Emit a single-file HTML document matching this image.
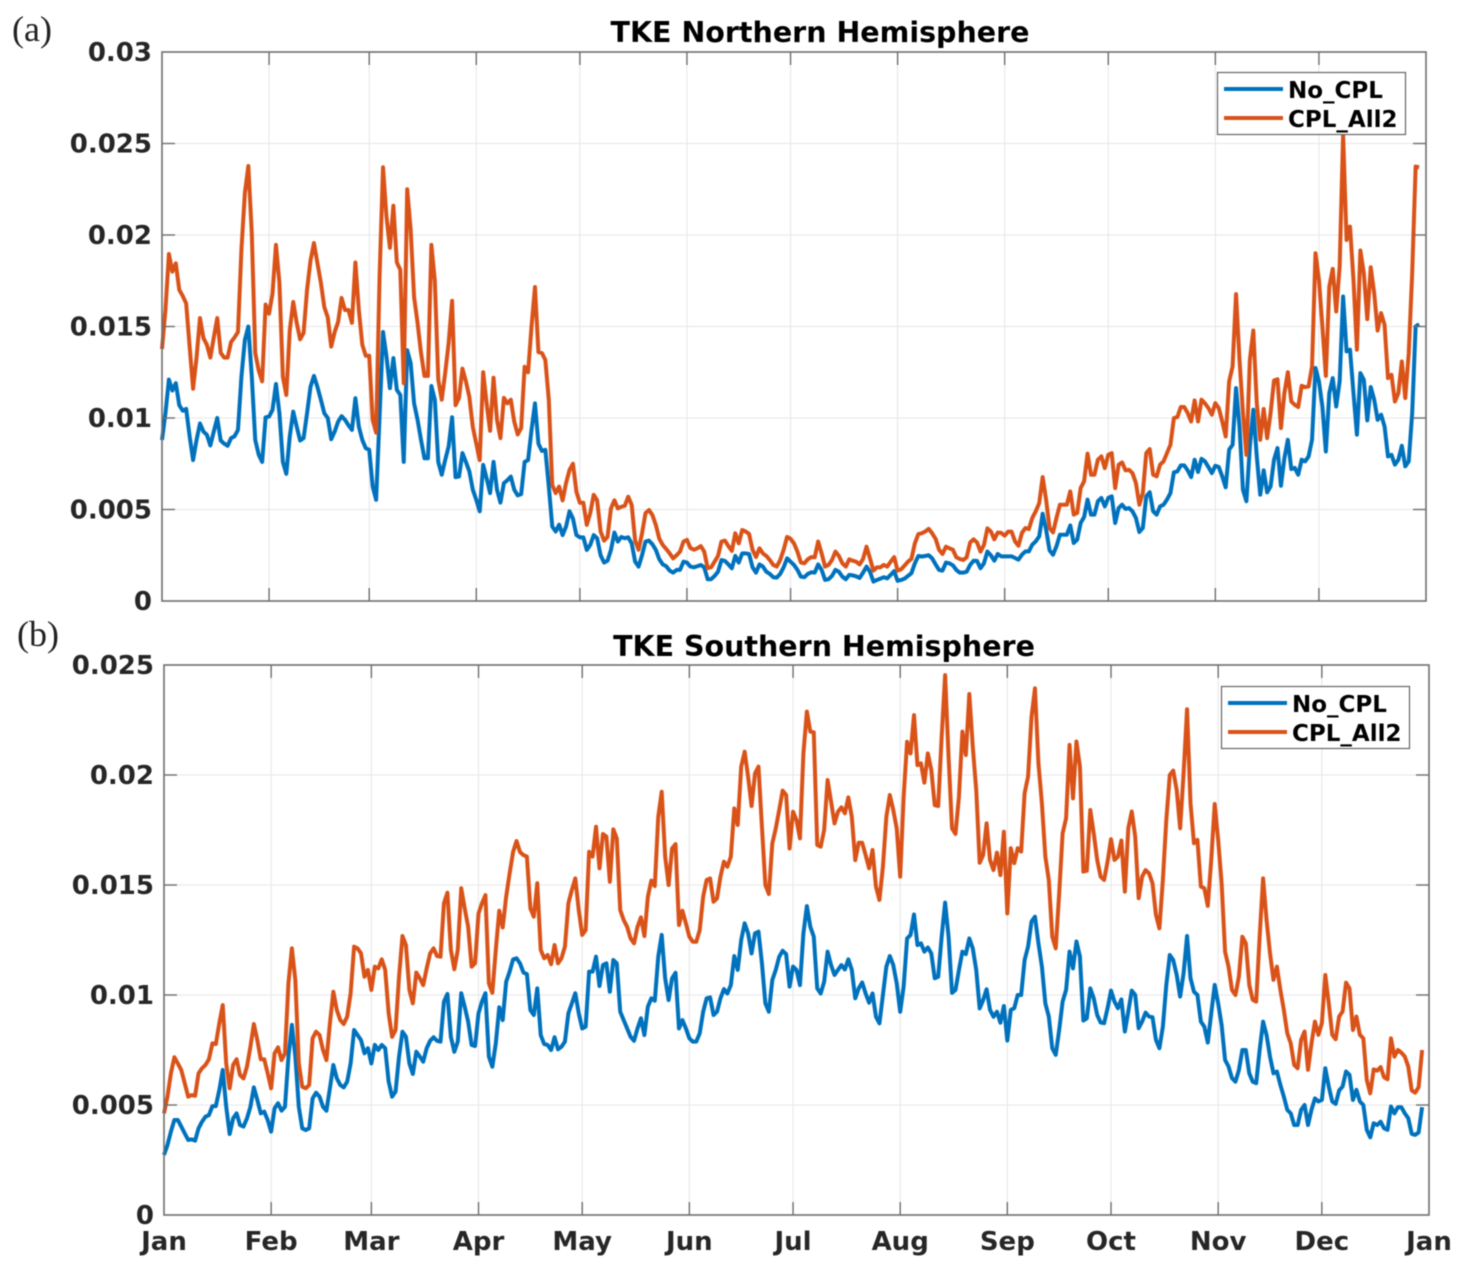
<!DOCTYPE html>
<html lang="en">
<head>
<meta charset="utf-8">
<title>TKE Northern and Southern Hemisphere</title>
<style>
html,body{margin:0;padding:0;background:#fff;}
svg{display:block;filter:blur(0.4px);}
.tick{font-family:"DejaVu Sans","Liberation Sans",sans-serif;font-weight:bold;font-size:26px;fill:#262626;}
.ttl{font-family:"DejaVu Sans","Liberation Sans",sans-serif;font-weight:bold;font-size:28.5px;fill:#000;}
.leg{font-family:"DejaVu Sans","Liberation Sans",sans-serif;font-weight:bold;font-size:23px;fill:#000;}
.pan{font-family:"Liberation Serif","DejaVu Serif",serif;font-size:36px;fill:#222;}
</style>
</head>
<body>
<svg id="figure" width="1466" height="1270" viewBox="0 0 1466 1270" xmlns="http://www.w3.org/2000/svg">
  <rect width="1466" height="1270" fill="#fff"/>
  <g id="panel-a"></g>
  <g id="panel-b"></g>
  <text class="pan" x="12" y="41">(a)</text>
  <text class="pan" x="17" y="646">(b)</text>
  <text class="ttl" x="820" y="42" text-anchor="middle">TKE Northern Hemisphere</text>
  <text class="ttl" x="824" y="656" text-anchor="middle">TKE Southern Hemisphere</text>
  <g>
    <rect x="1217.5" y="72.5" width="188" height="62" fill="#fff" stroke="#666" stroke-width="1.2"/>
    <line x1="1224" y1="89" x2="1283" y2="89" stroke="#0072BD" stroke-width="4"/>
    <line x1="1224" y1="118" x2="1283" y2="118" stroke="#D95319" stroke-width="4"/>
    <text class="leg" x="1288" y="98">No_CPL</text>
    <text class="leg" x="1288" y="127">CPL_All2</text>
  </g>
  <g>
    <rect x="1221.5" y="686.5" width="188" height="62" fill="#fff" stroke="#666" stroke-width="1.2"/>
    <line x1="1228" y1="703" x2="1287" y2="703" stroke="#0072BD" stroke-width="4"/>
    <line x1="1228" y1="732" x2="1287" y2="732" stroke="#D95319" stroke-width="4"/>
    <text class="leg" x="1292" y="712">No_CPL</text>
    <text class="leg" x="1292" y="741">CPL_All2</text>
  </g>
</svg>
<script>
// Values are TKE in units of 1e-4, one per day of a leap year.
const monthLabels = ["Jan","Feb","Mar","Apr","May","Jun","Jul","Aug","Sep","Oct","Nov","Dec","Jan"];
const monthStartDays = [0,31,60,91,121,152,182,213,244,274,305,335,366];
const northTickLabels = ["0","0.005","0.01","0.015","0.02","0.025","0.03"];
const southTickLabels = ["0","0.005","0.01","0.015","0.02","0.025"];

const northNoCpl = [
88,102.6,121,115,119,107,104,105,90,77,
88,97,92.6,90.8,85,92.6,100,87.7,86,84.8,
89,90,93.5,122.6,142.7,150,122.6,88,80,76,
100.4,100.8,104.4,118.6,102.6,76,69.5,90,103.5,95.3,
87.7,89,102.6,117,123,117,110,102.6,100,88.4,
92.6,98,101,99,96,93.5,110.8,95.3,88,83.5,
82.6,62.6,55.3,100.8,147,133.6,116.3,132.7,115.4,112.6,
76,137,130,108,99,88,78,78,117.5,110,
76,69,77,84.4,100.4,67.7,68,80.8,76,70.8,
60.8,55.3,49,74.4,67,59,76,60.8,53.8,64.4,
66,68,60.8,57.7,58.4,76,77,93.5,108,86,
82,82.6,62.6,40.7,38,41.7,36,40.7,49,45,
36,34.8,34.8,27.9,30.6,36,34.3,25,21,22,
27.9,37.4,32.5,35,34.3,34.8,31.5,21.5,18.8,25,
32.5,33,31,27.9,22.8,20,19,16.6,15.5,17,
17,21.5,21,18.8,18.4,19,19.7,18.4,11.9,11.9,
13.7,16,22.4,21.9,20,17.9,24.6,21,26,26,
25.7,18.4,15.5,20,18.8,16,14.8,13,12.8,14.8,
18.4,23.3,21.5,19.7,17,13.3,13,14.8,15.7,15.5,
20,17,11.5,11.9,13.7,17,16,13.3,11.9,14.3,
14,13.5,12.6,15.5,18.8,16,10.6,11.5,12.2,13,
12.4,14.3,16.3,11,11.5,12.2,13.7,15.2,20.6,24.6,
24.3,24.6,25,23.3,20,17,16.6,21,20.6,19.5,
17,15.5,15.5,16,19.7,22,21.9,17.9,20.6,27,
25,22,25.7,24.4,24.4,24.4,24.4,23.5,22.6,25.3,
27.1,27.1,30.8,32.6,35.3,47.7,39,27.7,25.3,29.9,
36.2,36.2,36.2,41.3,31.7,33.5,42.6,45.9,55.4,47.2,
47.2,54.5,56.3,51.7,56.3,57.2,42.6,50.8,52.6,50.3,
50.8,49,45.4,37.7,39.9,57.2,59.4,49,47.2,51.7,
52.6,55.4,59,70.3,70.8,74.1,74.1,71.4,67.7,77.2,
70.5,77.7,76.3,73.2,69.9,73.9,73.2,68.1,62.1,82.7,
85.4,116.3,95.4,60.8,54.5,84.5,104.5,79,58.1,71.4,
59.4,62.6,77.2,83.6,63,78.1,88.1,72.1,72.7,69,
77.2,76.3,79,88.1,127.3,120,106.3,81.7,113.6,121.8,
106.3,120,166.4,136.4,137.3,113.6,90.9,124.5,120.9,98.7,
116.9,110,99,101.8,95.4,79,79.9,74.5,77.2,84.8,
73.6,76.3,102.7,150,151.3];

const northCplAll2 = [
137.7,159,189.6,180,184.5,170,166.7,162.6,139,116,
133,154.6,143.7,140,133,144,154.6,135.6,133,133,
141.5,144,147,192,223,237.7,201,135.6,126,120,
162,157,168,194.6,174,122.5,112.6,148,163.4,152,
143,146.5,170,186,195.6,184.7,174,160.6,155,139,
147,152.5,165.6,159,159,152,185,159,140,134,
134,99,92,177,237,210,193,216,185,181,
119,225,203,166,152,135.6,123,123,194.6,175,
121,110,124.5,141,164,107,111,127,120,111.5,
95,86,77,125,108,93,122,99,89,111,
108,110,98,91,94.5,128,125,150,171.6,136,
135.5,131.7,110,63.4,59,62.5,55,64.5,71.6,75,
59.6,53.7,53.7,41.6,48,58,55,38,33,35,
50.6,55,50.6,51.5,52,57,52.5,33,28,37,
48,49.7,47,41.5,34,30.6,28.4,26,23.3,25,
27,32.5,33.4,29,28,28.8,30,27,18,18.4,
21.5,24.6,32.5,33,30,27.4,37,31.5,38.8,38,
36.6,28,24,28.8,26,24.6,22.4,19.7,18.8,22.4,
28,35,34,31.5,27,21,20.6,22.8,24,23.9,
32.5,26,18.8,19.7,22.4,27,24.6,20.6,18.8,22.8,
22,21.5,20,23,29.7,23.3,16.6,18.4,18.4,19.7,
18.8,21.5,24,16.6,17.3,19.3,21.5,23,31.5,36.6,
37,38,39.4,37,34,28,25.7,29.7,28.8,28,
23.9,23,22.4,23.9,32,33.7,32,27,30.6,39.7,
38,33.7,37.4,37.2,35.7,37.9,37.9,32.6,30.2,37.2,
39.9,39.3,45.4,49,53.5,67.7,55.4,39.9,37.5,45.4,
52.6,52.6,52.6,59.9,47.2,48.1,61.7,65.4,80.5,69,
69,77.2,79,72.6,79.9,80.8,61.7,74.5,75.7,71.4,
71.7,69.9,64.5,52.6,59,80.8,83,69,68.1,74.5,
76.3,80.8,85.4,100,100.5,106,106,102.7,98.1,109.6,
98.1,110,108,105.4,101.8,108.1,105.4,98.1,89.9,120,
128.2,167.7,131.8,102.7,79.9,131.8,147.8,108.1,88.1,104.9,
89,102.7,120.5,121.2,94.5,113.6,125,109,107.2,106,
117.6,116.9,117.2,128.2,190,175.5,150,123,171.8,181.5,
158.2,182.8,254.6,197.3,204.6,175.5,137.3,191.5,179.1,154,
182.4,168.2,147.8,157.3,150.9,121.8,123.6,109,113.6,130.9,
110.9,135.4,179.1,237.4,237];

const southNoCpl = [
27.3,31.8,37.9,43.2,43.2,40.2,37.1,34.1,34.4,33.8,
39.4,42.4,44.7,45.4,49.5,49.5,56.8,65.9,49.2,36.8,
43.9,46.2,40.9,40.2,43.9,49.2,58,52.3,46.2,47,
43.2,37.9,48.5,50.8,47.4,49.2,72,86.4,72,49.2,
39.4,38.6,39.4,53,55.6,53.8,49.2,47.4,57.6,68.2,
62.1,59.1,58,60.6,68.9,84.1,81.8,79.5,73.5,75.8,
68.9,77.3,75,77.3,75.8,60.6,53.8,56.1,72,83.3,
81,68.9,64.1,74.2,72,69.7,75.8,79.2,80.8,79.2,
78.8,97,100.5,81,74.2,78.8,100.8,94.7,87.9,77.3,
76.8,91.7,97,100.8,72,67.4,78,94.4,88.6,106,
110.6,116.2,116.7,114.4,110.2,109.5,93.2,90.9,103,81.8,
77.7,77.3,75,80.8,75.3,76.5,78.8,91.7,96.2,100.8,
91.7,84.8,85.6,110.6,110.6,117.4,104.1,113.6,114.4,101.5,
115.9,114.4,92.4,88.6,84.8,81,79.2,84.8,89.4,81.8,
94.7,98.5,97.4,117.4,127.3,107.6,97.7,107.6,110.1,84.8,
88.6,84.8,80.3,78.8,78.8,82.6,92.4,98.5,98.9,90.9,
92.4,98.5,102.7,100.7,104.5,117.7,111.4,125,132.6,128,
118.9,128,128.8,114.4,96.2,92.4,106.8,111.4,117.4,120.1,
118.6,103.8,112.9,111.4,104.5,128,140.4,131,126.5,103,
100.7,106,119.7,113.6,109.1,111.4,113.6,111.6,116.2,111.4,
98.5,103,105.7,100.7,96.5,100.7,90.1,87.1,100,112.9,
117.7,113.6,105.3,92.4,103.8,125.7,127.3,136.6,122.7,123.5,
119.7,121.6,118.9,107.6,108.3,126.5,142,126.5,101,102.3,
111.4,119.7,118.6,125.7,121.2,111.4,93.9,97.7,102.6,93.2,
90.1,92.4,87.4,95,79.3,93.2,94,100,100,115.9,
122,133.4,135.6,123.5,112.9,96.2,90.2,75.8,72.8,84.1,
97,102.3,119.7,112.1,124.3,117.5,88.4,89.4,103,98.5,
90.9,87.5,87.2,94,102,97,94,98,83.4,92.5,
102,100,84.9,87.9,92,90.2,89.9,79.6,75.8,85.6,
104.6,118.2,115.9,109.1,99.3,109.9,126.8,107.6,101.5,100,
87.9,85.6,78.4,91.7,104.6,96.2,86.4,70.5,67.5,62.2,
60.6,65.9,75,75,64.4,60.6,59.9,75,87.9,81.8,
72,64.4,65.2,59.1,53.8,47.8,46.2,40.9,40.9,47.8,
50,40.9,47.8,53,51.6,52.3,66.7,58.4,51.6,50.5,
56.6,58.4,65.2,63.7,52.3,56.9,51.6,50,38.7,35.3,
41.7,40.9,42.4,39.4,38.7,49.3,46.2,49,49,46.2,
44,36.9,36.4,37.5,49];

const southCplAll2 = [
46.2,53.8,64.4,71.7,68.9,65.9,59.9,53.8,54.5,54.2,
64.4,66.7,68.2,70.8,78,77.7,87.1,95.4,68.9,57.6,
68.2,70.8,63.6,62.1,67.4,76.5,86.8,79.5,70.8,70.8,
64.4,57.6,73.5,76.2,70.4,73.5,105.3,121.2,106.8,69,
58.3,57.6,59.1,80.3,83.3,81.8,75,70.4,87.1,101.5,
93.2,88.6,86.8,90.2,100.8,122,121.2,118.9,108.3,111.4,
102.3,112.9,112.1,116.2,111.4,91.7,81,84.1,108.3,126.8,
122.7,102.3,96.2,110.2,107.6,104.5,112.1,118.9,121.2,117.7,
117.4,141.7,146.5,120.5,111.7,120.5,148.5,139.4,131,112.9,
114.4,137.1,141.7,145.4,105.3,101,120.5,138.3,130.7,144.7,
155.3,165,170,165,163.6,162.9,139.4,135.6,150.8,120.5,
116.7,118.2,114,122.7,114.4,116.7,122,141.7,147.7,153,
138.6,127.3,129.5,165.1,162.9,176.5,157.6,173.2,172,151.5,
175.3,171.2,138.6,134.1,131,125.7,123.5,131,135.3,126.8,
144.7,152,149.5,181,192.4,162.9,150,166.6,168.6,131.8,
138.3,132.6,126.5,124.2,124.2,129.5,144.7,152.3,153,142.4,
143.9,153.8,160.6,158.3,162.9,184.8,177.3,203.8,210.6,199.2,
185.9,200.7,203.8,176.5,150,145.9,168.9,175.7,184.1,192.9,
190.9,166.6,183.3,179.5,171.2,209.8,228.8,219.7,219.4,168.2,
167.4,175,197.7,187.9,178,183.3,185.3,182.6,189.8,181,
161.3,169.2,169.2,163.6,157.6,165.9,149.2,143.2,158.3,181,
190.9,184.1,175.7,153.8,190.1,215.1,209.8,227.2,204.5,205.3,
196.5,209.8,202.3,186.3,185.9,217.4,245.4,208.3,175.7,173.2,
190.1,219.7,209.1,236.8,212.9,193.2,160.1,163.6,178,161.3,
156.8,164.7,154.5,174.2,137.1,166.7,159.9,166.7,165.2,191.7,
199.3,226.5,239.4,205.3,187.1,162.9,152.3,126.5,121.2,146.2,
173.5,180.3,213.7,189.4,215.2,203.8,156.1,156.5,184.1,173.5,
161.4,153.8,152.3,160.6,170.8,161.4,162.9,170.2,147,175.8,
183.4,172,144,153.8,156.8,155.3,150.8,136.4,130.3,152.3,
179.6,200,202,193.2,175.8,200.8,229.9,187.1,169,170.5,
149.3,148.5,140.5,161.4,186.8,170.5,150.8,119.7,112.9,102.3,
100,108.4,126.5,123.5,104.6,97.8,97,126.5,153,134.1,
119,106.9,112.9,102.3,93.2,82.6,78,68.2,66.7,79.6,
83.4,66,78,87.9,81.9,87.2,109.1,96.2,81.9,79.9,
90.2,92.5,105.6,103,84.1,90.2,81.9,80.3,61.4,55.3,
66.2,65.6,67.2,62.6,61.7,80.3,72,75,73.8,72,
67.5,56.6,55.6,58.1,75];

const SVG_NS = "http://www.w3.org/2000/svg";
const AXIS = "#6e6e6e", GRID = "#e6e6e6";
const BLUE = "#0072BD", ORANGE = "#D95319";

function drawLine(parent, x1, y1, x2, y2, color, width) {
  const el = document.createElementNS(SVG_NS, "line");
  el.setAttribute("x1", x1);
  el.setAttribute("y1", y1);
  el.setAttribute("x2", x2);
  el.setAttribute("y2", y2);
  el.setAttribute("stroke", color);
  el.setAttribute("stroke-width", width);
  parent.appendChild(el);
  return el;
}

function drawText(parent, x, y, anchor, str) {
  const el = document.createElementNS(SVG_NS, "text");
  el.setAttribute("class", "tick");
  el.setAttribute("x", x);
  el.setAttribute("y", y);
  el.setAttribute("text-anchor", anchor);
  el.textContent = str;
  parent.appendChild(el);
  return el;
}

function drawPanel(groupId, box, yTickLabels, yMax, blueValues, orangeValues, showMonths) {
  const g = document.getElementById(groupId);
  const xScale = d => box.left + (box.right - box.left) * d / 366;
  const yScale = v => box.bottom - (box.bottom - box.top) * v / yMax;

  monthStartDays.forEach((day, i) => {
    const px = xScale(day);
    if (i > 0 && i < monthStartDays.length - 1) {
      const grid = drawLine(g, px, box.top, px, box.bottom, GRID, 1);
      
      
    }
  });
  yTickLabels.forEach((label, i) => {
    if (i > 0 && i < yTickLabels.length - 1) {
      const py = yScale(parseFloat(label) * 1e4);
      const grid = drawLine(g, box.left, py, box.right, py, GRID, 1);
      
      
    }
  });

  [[blueValues, BLUE, 'series-no-cpl'], [orangeValues, ORANGE, 'series-cpl-all2']].forEach(s => {
    const path = document.createElementNS(SVG_NS, "path");
    const d = s[0].map((v, i) => (i ? "L" : "M") + xScale(i).toFixed(2) + " " + yScale(v).toFixed(2)).join("");
    path.setAttribute("d", d);
    path.setAttribute("fill", "none");
    path.setAttribute("stroke", s[1]);
    path.setAttribute("stroke-width", "4");
    path.setAttribute("stroke-linejoin", "round");
    
    
    g.appendChild(path);
  });

  const frame = document.createElementNS(SVG_NS, "rect");
  frame.setAttribute("x", box.left);
  frame.setAttribute("y", box.top);
  frame.setAttribute("width", box.right - box.left);
  frame.setAttribute("height", box.bottom - box.top);
  frame.setAttribute("fill", "none");
  frame.setAttribute("stroke", AXIS);
  frame.setAttribute("stroke-width", "1.6");
  
  
  g.appendChild(frame);

  monthStartDays.forEach((day, i) => {
    const px = xScale(day);
    if (i > 0 && i < monthStartDays.length - 1) {
      const bottomTick = drawLine(g, px, box.bottom, px, box.bottom - 13, AXIS, 1.4);
      
      
      const topTick = drawLine(g, px, box.top, px, box.top + 13, AXIS, 1.4);
      
      
    }
    if (showMonths) {
      const label = drawText(g, px, box.bottom + 35, "middle", monthLabels[i]);
      
      
    }
  });

  yTickLabels.forEach((text, i) => {
    const py = yScale(parseFloat(text) * 1e4);
    if (i > 0 && i < yTickLabels.length - 1) {
      const leftTick = drawLine(g, box.left, py, box.left + 13, py, AXIS, 1.4);
      
      
      const rightTick = drawLine(g, box.right, py, box.right - 13, py, AXIS, 1.4);
      
      
    }
    const label = drawText(g, box.left - 10, py + 9, "end", text);
    
    
  });
}

drawPanel("panel-a", {left:162, right:1426, top:52, bottom:601}, northTickLabels, 300, northNoCpl, northCplAll2, false);
drawPanel("panel-b", {left:164, right:1429, top:665, bottom:1215}, southTickLabels, 250, southNoCpl, southCplAll2, true);
</script>
</body>
</html>
